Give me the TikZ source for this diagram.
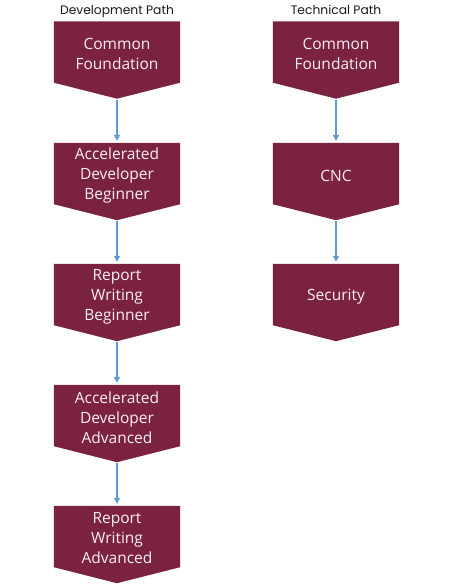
\documentclass[tikz,border=0pt]{standalone}
\usepackage{fontspec}
\setmainfont{Open Sans}
\newfontfamily\headfont{Poppins}
\usetikzlibrary{backgrounds,calc,arrows.meta}
\definecolor{maroon}{HTML}{7B2240}
\definecolor{arrblue}{HTML}{5B9BD5}
\definecolor{boxtext}{HTML}{FBF0F3}
\tikzset{
  stepbox/.style={minimum width=126bp, minimum height=61bp, inner sep=0pt,
    text=boxtext, align=center, font=\fontsize{15.5bp}{20bp}\selectfont},
  head/.style={font=\headfont\fontsize{12.3bp}{14bp}\selectfont, text=black!90, anchor=base},
  arr/.style={draw=arrblue, line width=1.4bp, -{Triangle[length=6bp,width=6bp]}, shorten <=1bp, shorten >=2bp},
}
% y axis points down (y=-1bp); the box outline sits 2bp above the text node
\newcommand{\chev}[1]{%
  \coordinate (#1t) at ($(#1.north)+(0,-2)$);
  \coordinate (#1p) at ($(#1.south)+(0,14)$);
  \begin{scope}[on background layer]
    \fill[maroon] ($(#1.north west)+(0,-2)$) -- ($(#1.north east)+(0,-2)$) -- ($(#1.south east)+(0,-2)$) -- (#1p) -- ($(#1.south west)+(0,-2)$) -- cycle;
  \end{scope}}
\begin{document}
\begin{tikzpicture}[x=1bp,y=-1bp]
\useasboundingbox (0,0) rectangle (454,588);
\node[head] (h1) at (117,15) {Development Path};
\node[head] (h2) at (336,15) {Technical Path};
\node[stepbox] (a1) at (117,54) {Common\\Foundation}; \chev{a1}
\node[stepbox] (a2) at (117,175.5) {Accelerated\\Developer\\Beginner}; \chev{a2}
\node[stepbox] (a3) at (117,296.5) {Report\\Writing\\Beginner}; \chev{a3}
\node[stepbox] (a4) at (117,417.5) {Accelerated\\Developer\\Advanced}; \chev{a4}
\node[stepbox] (a5) at (117,538.5) {Report\\Writing\\Advanced}; \chev{a5}
\node[stepbox] (b1) at (336,54) {Common\\Foundation}; \chev{b1}
\node[stepbox] (b2) at (336,175.5) {CNC}; \chev{b2}
\node[stepbox] (b3) at (336,296.5) {Security}; \chev{b3}
\draw[arr] (a1p) -- (a2t);
\draw[arr] (a2p) -- (a3t);
\draw[arr] (a3p) -- (a4t);
\draw[arr] (a4p) -- (a5t);
\draw[arr] (b1p) -- (b2t);
\draw[arr] (b2p) -- (b3t);
\end{tikzpicture}
\end{document}
